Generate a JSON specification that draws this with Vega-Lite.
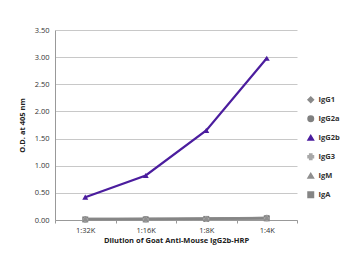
{
  "$schema": "https://vega.github.io/schema/vega-lite/v6.json",
  "autosize": {"type": "none"},
  "width": 242,
  "height": 190,
  "padding": {"left": 55, "top": 30, "right": 63, "bottom": 60},
  "background": "white",
  "config": {
    "view": {"stroke": null},
    "font": "Open Sans",
    "axis": {"labelFont": "Open Sans", "titleFont": "Open Sans", "labelColor": "#333", "titleColor": "#222"},
    "legend": {"labelFont": "Open Sans"}
  },
  "data": {
    "values": [
      {"dilution": "1:32K", "isotype": "IgG1", "od": 0.02},
      {"dilution": "1:16K", "isotype": "IgG1", "od": 0.02},
      {"dilution": "1:8K", "isotype": "IgG1", "od": 0.02},
      {"dilution": "1:4K", "isotype": "IgG1", "od": 0.03},
      {"dilution": "1:32K", "isotype": "IgG2a", "od": 0.01},
      {"dilution": "1:16K", "isotype": "IgG2a", "od": 0.02},
      {"dilution": "1:8K", "isotype": "IgG2a", "od": 0.02},
      {"dilution": "1:4K", "isotype": "IgG2a", "od": 0.04},
      {"dilution": "1:32K", "isotype": "IgG3", "od": 0.01},
      {"dilution": "1:16K", "isotype": "IgG3", "od": 0.01},
      {"dilution": "1:8K", "isotype": "IgG3", "od": 0.02},
      {"dilution": "1:4K", "isotype": "IgG3", "od": 0.03},
      {"dilution": "1:32K", "isotype": "IgM", "od": 0.02},
      {"dilution": "1:16K", "isotype": "IgM", "od": 0.02},
      {"dilution": "1:8K", "isotype": "IgM", "od": 0.03},
      {"dilution": "1:4K", "isotype": "IgM", "od": 0.04},
      {"dilution": "1:32K", "isotype": "IgA", "od": 0.01},
      {"dilution": "1:16K", "isotype": "IgA", "od": 0.01},
      {"dilution": "1:8K", "isotype": "IgA", "od": 0.02},
      {"dilution": "1:4K", "isotype": "IgA", "od": 0.03},
      {"dilution": "1:32K", "isotype": "IgG2b", "od": 0.42},
      {"dilution": "1:16K", "isotype": "IgG2b", "od": 0.82},
      {"dilution": "1:8K", "isotype": "IgG2b", "od": 1.65},
      {"dilution": "1:4K", "isotype": "IgG2b", "od": 2.98}
    ]
  },
  "mark": {"type": "line", "strokeWidth": 2.2, "point": {"filled": true, "size": 36}},
  "encoding": {
    "x": {
      "field": "dilution", "type": "nominal",
      "sort": ["1:32K", "1:16K", "1:8K", "1:4K"],
      "scale": {"type": "band", "paddingInner": 0, "paddingOuter": 0},
      "axis": {
        "title": "Dilution of Goat Anti-Mouse IgG2b-HRP",
        "titleFontSize": 7.5, "titleFontWeight": "bold", "titlePadding": 3,
        "labelAngle": 0, "labelFontSize": 7.5, "labelPadding": 3,
        "domainColor": "#999", "tickColor": "#999", "tickSize": 3, "tickBand": "extent",
        "grid": false
      }
    },
    "y": {
      "field": "od", "type": "quantitative",
      "scale": {"domain": [0, 3.5], "nice": false},
      "axis": {
        "title": "O.D. at 405 nm",
        "titleFontSize": 7.5, "titleFontWeight": "bold", "titlePadding": 8,
        "values": [0, 0.5, 1, 1.5, 2, 2.5, 3, 3.5],
        "format": ".2f", "labelFontSize": 7.5, "labelPadding": 6,
        "domainColor": "#999", "ticks": false,
        "grid": true, "gridColor": "#c8c8c8", "gridWidth": 1
      }
    },
    "color": {
      "field": "isotype", "type": "nominal",
      "scale": {
        "domain": ["IgG1", "IgG2a", "IgG2b", "IgG3", "IgM", "IgA"],
        "range": ["#8a8a8a", "#808080", "#4b1d9e", "#a8a8a8", "#8f8f8f", "#858585"]
      },
      "legend": {
        "title": null, "orient": "none", "legendX": 252, "legendY": 66,
        "labelFontSize": 7.5, "labelFontWeight": "bold", "labelColor": "#333",
        "rowPadding": 7, "symbolSize": 30
      }
    },
    "shape": {
      "field": "isotype", "type": "nominal",
      "scale": {
        "domain": ["IgG1", "IgG2a", "IgG2b", "IgG3", "IgM", "IgA"],
        "range": ["diamond", "circle", "triangle-up", "cross", "triangle-up", "square"]
      },
      "legend": {"title": null}
    },
    "order": {"field": "isotype"}
  }
}
